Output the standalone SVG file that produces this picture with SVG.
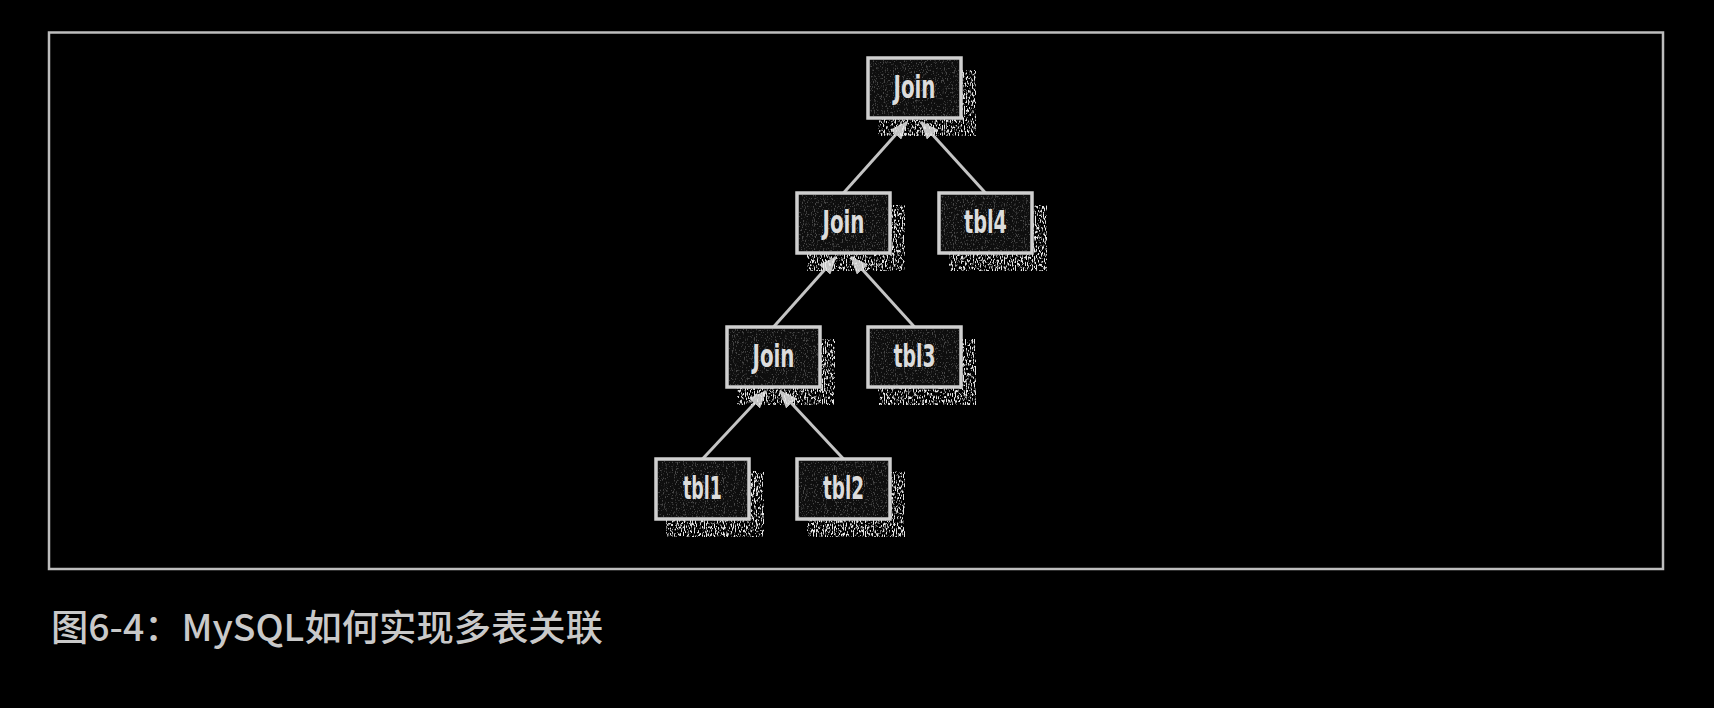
<svg xmlns="http://www.w3.org/2000/svg" width="1714" height="708" viewBox="0 0 1714 708">
<defs>
<style>
.bg{fill:#000}
.frame{fill:none;stroke:#bdbdbd;stroke-width:2.5}
.shadow{fill:#fff;filter:url(#speckle)}
.box{fill:#0e0e0e;stroke:#cfcfcf;stroke-width:3.5}
.tex{fill:#fff;filter:url(#fine);opacity:0.3}
.lbl{font-family:"Liberation Sans Narrow","DejaVu Sans Condensed","Liberation Sans",sans-serif;font-weight:bold;font-size:32px;fill:#dcdcdc;text-anchor:middle}
.edge{stroke:#c4c4c4;stroke-width:3;fill:none;marker-end:url(#arr)}
.cap{font-family:"Noto Sans CJK SC","Noto Sans",sans-serif;font-size:36px;font-weight:500;fill:#c9c9c9}
</style>
<filter id="speckle" x="0" y="0" width="1" height="1">
<feTurbulence type="fractalNoise" baseFrequency="0.9 0.3" numOctaves="2" seed="4" result="n"/>
<feColorMatrix in="n" type="matrix" values="0 0 0 0 0.78  0 0 0 0 0.78  0 0 0 0 0.78  0 0 0 7 -3.5" result="d"/>
<feComposite in="d" in2="SourceGraphic" operator="in"/>
</filter>
<filter id="fine" x="0" y="0" width="1" height="1">
<feTurbulence type="fractalNoise" baseFrequency="1.1 0.5" numOctaves="2" seed="9" result="n"/>
<feColorMatrix in="n" type="matrix" values="0 0 0 0 0.6  0 0 0 0 0.6  0 0 0 0 0.6  0 0 0 6 -3.3" result="d"/>
<feComposite in="d" in2="SourceGraphic" operator="in"/>
</filter>
<marker id="arr" markerUnits="userSpaceOnUse" markerWidth="19" markerHeight="15" refX="17" refY="7.5" orient="auto">
<path d="M0,0 L18,7.5 L0,15 z" fill="#c4c4c4"/>
</marker>
</defs>
<rect class="bg" x="0" y="0" width="1714" height="708"/>
<rect class="frame" x="49" y="32.5" width="1614" height="536.5"/>

<g id="connectors">
<line class="edge" x1="843.5" y1="193" x2="907" y2="122"/>
<line class="edge" x1="985.5" y1="193" x2="921" y2="122"/>
<line class="edge" x1="773.5" y1="327" x2="836" y2="257"/>
<line class="edge" x1="914.5" y1="327" x2="851" y2="257"/>
<line class="edge" x1="702.5" y1="459" x2="766" y2="391"/>
<line class="edge" x1="843.5" y1="459" x2="780" y2="391"/>
</g>

<g id="n1">
<rect class="shadow" x="878" y="70" width="98" height="66"/>
<rect class="box" x="868" y="58" width="93" height="60"/>
<rect class="tex" x="870" y="60" width="89" height="56"/>
<text class="lbl" x="914.5" y="98" textLength="42" lengthAdjust="spacingAndGlyphs">Join</text>
</g>
<g id="n2">
<rect class="shadow" x="807" y="205" width="98" height="66"/>
<rect class="box" x="797" y="193" width="93" height="60"/>
<rect class="tex" x="799" y="195" width="89" height="56"/>
<text class="lbl" x="843.5" y="233" textLength="42" lengthAdjust="spacingAndGlyphs">Join</text>
</g>
<g id="n3">
<rect class="shadow" x="949" y="205" width="98" height="66"/>
<rect class="box" x="939" y="193" width="93" height="60"/>
<rect class="tex" x="941" y="195" width="89" height="56"/>
<text class="lbl" x="985.5" y="233" textLength="43" lengthAdjust="spacingAndGlyphs">tbl4</text>
</g>
<g id="n4">
<rect class="shadow" x="737" y="339" width="98" height="66"/>
<rect class="box" x="727" y="327" width="93" height="60"/>
<rect class="tex" x="729" y="329" width="89" height="56"/>
<text class="lbl" x="773.5" y="367" textLength="42" lengthAdjust="spacingAndGlyphs">Join</text>
</g>
<g id="n5">
<rect class="shadow" x="878" y="339" width="98" height="66"/>
<rect class="box" x="868" y="327" width="93" height="60"/>
<rect class="tex" x="870" y="329" width="89" height="56"/>
<text class="lbl" x="914.5" y="367" textLength="42" lengthAdjust="spacingAndGlyphs">tbl3</text>
</g>
<g id="n6">
<rect class="shadow" x="666" y="471" width="98" height="66"/>
<rect class="box" x="656" y="459" width="93" height="60"/>
<rect class="tex" x="658" y="461" width="89" height="56"/>
<text class="lbl" x="702.5" y="499" textLength="39" lengthAdjust="spacingAndGlyphs">tbl1</text>
</g>
<g id="n7">
<rect class="shadow" x="807" y="471" width="98" height="66"/>
<rect class="box" x="797" y="459" width="93" height="60"/>
<rect class="tex" x="799" y="461" width="89" height="56"/>
<text class="lbl" x="843.5" y="499" textLength="41" lengthAdjust="spacingAndGlyphs">tbl2</text>
</g>

<text class="cap" x="51" y="641" textLength="552" lengthAdjust="spacingAndGlyphs">图6-4：MySQL如何实现多表关联</text>
</svg>
